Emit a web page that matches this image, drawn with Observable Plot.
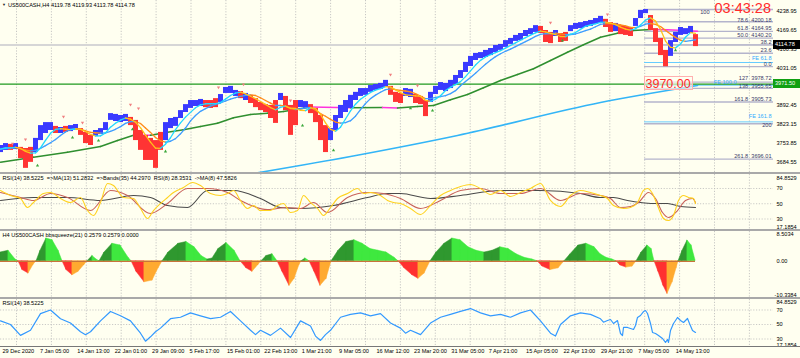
<!DOCTYPE html>
<html><head><meta charset="utf-8">
<script src="https://cdn.jsdelivr.net/npm/d3@7"></script>
<script src="https://cdn.jsdelivr.net/npm/@observablehq/plot@0.6"></script>
<style>
html,body{margin:0;padding:0;background:#fffff0;}
#chart{position:relative;width:800px;height:358px;overflow:hidden;background:#fffff0;font-family:"Liberation Sans",Arial,sans-serif;}
.ov{position:absolute;white-space:nowrap;}
</style></head>
<body><div id="chart"></div>
<script>
// ---------------- DATA ----------------
// price bars (H4, sampled), bar index 0..139
const priceHigh = [3746,3753,3750,3753,3739,3735,3739,3772,3819,3830,
3830,3816,3812,3816,3819,3823,3808,3794,3783,3801,
3808,3830,3863,3860,3856,3860,3849,3838,3801,3783,
3772,3764,3794,3830,3845,3849,3874,3896,3911,3911,
3915,3911,3911,3918,3933,3959,3963,3948,3944,3937,
3930,3918,3904,3896,3893,3911,3937,3926,3893,3911,
3911,3907,3896,3882,3856,3819,3808,3856,3893,3911,
3930,3941,3955,3955,3966,3970,3974,3985,3963,3941,
3937,3955,3952,3933,3926,3911,3941,3963,3977,3974,
3985,4003,4021,4051,4073,4084,4087,4095,4102,4113,
4117,4131,4139,4150,4157,4168,4175,4186,4183,4168,
4161,4168,4157,4161,4186,4194,4197,4201,4205,4212,
4220,4209,4197,4194,4186,4183,4179,4212,4242,4245,
4223,4175,4139,4095,4131,4161,4179,4175,4183,4153];
const priceLow = [3720,3728,3728,3731,3698,3662,3684,3720,3764,3790,
3801,3790,3790,3794,3797,3801,3783,3753,3746,3779,
3786,3801,3838,3834,3830,3834,3819,3764,3728,3691,
3691,3662,3728,3764,3808,3816,3845,3867,3882,3889,
3889,3885,3882,3885,3904,3937,3937,3926,3918,3911,
3900,3885,3874,3867,3845,3827,3911,3874,3783,3819,
3885,3882,3863,3830,3764,3720,3764,3801,3845,3867,
3882,3911,3926,3930,3941,3948,3952,3959,3930,3904,
3900,3926,3922,3900,3896,3852,3904,3933,3948,3944,
3955,3970,3992,4014,4036,4058,4065,4069,4076,4087,
4095,4106,4117,4128,4131,4146,4153,4161,4157,4124,
4120,4146,4124,4128,4164,4172,4175,4179,4183,4190,
4194,4179,4161,4164,4153,4150,4146,4183,4212,4230,
4168,4124,4076,4035,4073,4124,4150,4153,4157,4109];
// b = bullish (blue), r = bearish (red)
const barTrend = "bbrbrrrbbb"+"brbrbbrrrb"+"bbbbbbrrrr"+"rrrbbbbbbb"+"brrrbbbbrb"+
                 "rrrrrrbrrr"+"bbrrrrbbbb"+"bbbbbbbbrr"+"rbbrrrbbbb"+"bbbbbbbbbb"+
                 "bbbbbbbbrr"+"rbrrbbbbbb"+"brrbrrrbbb"+"rrrrbbbbbr";
// long moving average (index, price)
const longMA = [[0,3684.6],[6.6,3703.0],[13.4,3721.3],[20,3742.2],[23.4,3764.3],[26.6,3783.7],[30,3783.3],
[33.4,3794.7],[36.6,3803.5],[40,3815.7],[43.4,3827.8],[46.6,3847.6],[50,3859.7],[53.4,3864.5],[56.6,3870.7],
[60,3880.6],[62,3887.2],[70,3884.3],[76.4,3885.0],[79.4,3884.0],[83.4,3889.1],[86.6,3892.7],[90,3913.7],
[93.4,3933.1],[96.6,3957.7],[100,3984.5],[103.4,4006.6],[106.6,4027.5],[110,4057.9],[113.4,4088.4],
[116.6,4115.6],[120,4143.5],[123.4,4158.2],[126.6,4168.1],[130,4171.7],[133.4,4170.6],[136.6,4168.1],[139.4,4165.5]];
// very long moving average (index, price)
const veryLongMA = [[50,3641.3],[70,3705.5],[91.4,3782.6],[120,3903.8],[139.4,3966.2]];
// fractal arrows
const fractalUp = [[2.4,3742],[5,3757],[12.6,3841],[16.4,3819],[26,3885],[27.6,3871],[43.6,3948],[48.6,3959],[58,3900],[78,3995],[83.4,3955],[110,4186],[121.4,4216]];
const fractalDown = [[7.4,3683],[14.4,3786],[19.6,3775],[26.4,3816],[33,3735],[60.4,3830],[66.6,3739],[82,3893],[86.4,3885],[112.4,4142],[135,4106]];
const bidPrice = 4114.78, linePrice = 3971.50;
const priceTicks = [4238.95,4169.65,4100.35,4031.05,3892.45,3823.15,3753.85,3684.55];
// Fibonacci retracement / expansion
const fibStart = 128.8;
const fibPrice = [4245.07,4200.18,4164.95,4140.20,4115.45,4084.83,4035.33,3978.72,3955.65,3905.73,3825.60,3696.01];
const fibText  = ["100","78.6  4200.18","61.8  4164.95","50.0  4140.20","38.2","23.6","0.0","127  3978.72","138  3955.65","161.8  3905.73","200","261.8  3696.01"];
const fibLabelShift = [-64,-2,-2,-2,-2,-2,-2,-2,-2,-2,-2,-2];
const fibLabelLift  = [3,-2,-3,-3,-3,-3,-2.5,-3.5,-2,-3,1.5,-3];
const fePrice = [4050.6,3967.3,3832.6];
const feText  = ["FE 61.8","FE 100.0","FE 161.8"];
const feLabelShift = [-2,-37,-2];
const feLabelLift  = [-4.5,-3,-5.5];
const noteText = "3970.00", noteIndex = 128.7, notePrice = 3970;
// RSI panel lines (index, value)
const rsi8 = [[0,67.4],[2,60.8],[4,56.9],[5.4,45.1],[6.6,51.6],[8.6,63.4],[10,64.8],[12,56.9],[14,51.6],[16,58.2],
[17.4,41.1],[18.6,34.6],[20,51.6],[21.4,76.6],[22.6,73.9],[24.6,58.2],[26.6,56.9],[28,43.8],[29.4,30.7],[30.6,41.1],
[32,50.3],[33.4,58.2],[34.6,64.8],[36.6,71.3],[38.4,77.9],[40,73.9],[42,63.4],[44,60.8],[45.4,63.4],[46.6,67.4],
[48,54.3],[49.4,43.8],[50.6,47.7],[52,41.1],[54,41.1],[55.4,47.7],[56.6,50.3],[58,38.5],[59.4,41.1],[60.6,60.8],
[62,51.6],[63.4,43.8],[64.6,34.6],[66,45.1],[67.4,56.9],[69.4,63.4],[71.4,70.0],[72.6,63.4],[74,64.8],[76,60.8],
[77.4,54.3],[78.6,51.6],[80,50.3],[82,43.8],[84,35.9],[86,47.7],[88,60.8],[90,67.4],[92,72.6],[94,75.2],
[96,70.0],[98,62.1],[100,67.4],[102,59.5],[104,64.8],[106,70.0],[108,76.6],[110,54.3],[112,46.4],[114,60.8],
[116,67.4],[118,64.8],[120,60.8],[121.4,56.9],[122.6,47.7],[124.6,43.8],[126,45.1],[127.4,51.6],[128.6,67.4],[129.4,70.0],
[130.4,63.4],[131.4,47.7],[132.6,30.7],[133.6,28.0],[134.6,34.6],[135.6,54.3],[136.6,60.8],[137.6,58.2],[138.6,56.9],[139,50.3]];
const rsiMA8 = [[0,64.8],[4,58.2],[6.6,54.3],[10,63.4],[13.4,58.2],[18,41.1],[22,67.4],[25.4,60.8],[30,37.2],[33.4,50.3],
[37.4,70.0],[41.4,70.0],[45.4,64.8],[48,54.3],[53.4,42.5],[57.4,45.1],[60,43.8],[62.6,51.6],[65.4,38.5],[69.4,58.2],
[73.4,64.8],[76.6,63.4],[80,56.9],[84,43.8],[88,54.3],[92,67.4],[96,70.0],[100,63.4],[104,63.4],[108,70.0],
[112,54.3],[116,63.4],[120,60.8],[122,56.9],[124,45.1],[126,46.4],[127.6,51.6],[129.6,64.8],[131,56.9],[132.4,38.5],
[133.6,32.0],[135.4,41.1],[137,54.3],[138.4,56.9],[139,51.6]];
const rsiBands = [[0,54.3],[6.6,58.2],[13.4,58.2],[20,54.3],[26.6,60.8],[30,58.2],[33.4,47.7],[37.4,45.1],[41.4,67.4],[46.6,67.4],
[52,56.9],[56,45.1],[60,43.8],[66.6,47.7],[73.4,58.2],[77.4,63.4],[80,63.4],[86,56.9],[92,60.8],[100,67.4],
[108,67.4],[116,63.4],[120,58.2],[122.6,58.2],[125.4,54.3],[128,51.6],[130.6,50.3],[133.4,50.3],[136,46.4],[139,45.1]];
const rsiTicks = [84.8529,70,50,30,17.1854];
// bbsqueeze histogram (index, value)
const squeeze = [[0,2.5],[1.6,3.0],[3,0.5],[3.6,0],[4.4,-2.5],[5.6,-3.5],[6.6,-1],[7.2,0],[8,3],[9.2,6.5],
[10.4,6],[11.6,3],[12.4,0],[13.2,-2.5],[14.4,-4],[15.6,-3],[16.8,-1],[17.4,0],[18.4,1.5],[19.2,0.5],
[19.8,0],[20.8,2.5],[22.4,5],[24,4.5],[25.6,1],[26.2,0],[27.2,-3],[28.8,-6],[30.4,-5.5],[31.6,-2],
[32.4,0],[33.6,2.5],[35.6,5],[37.2,5.5],[38.8,4],[40.2,1.5],[41.4,0.5],[42.4,0.8],[43.6,3.5],[45.2,5.2],
[46.8,3],[48,0],[49.2,-2],[50.4,-3],[51.6,-1],[52.2,0],[53.2,1.5],[54.4,2],[55.4,0],[56.4,-3],
[57.8,-7],[58.8,-5],[59.8,-1],[60.2,0],[61,0.8],[61.8,0],[62.8,-3],[64,-7],[65.2,-5],[66.2,0],
[67.6,3],[69.2,5.5],[70.8,6],[72.4,5],[74,3.5],[75.6,3],[77.2,2.5],[78.8,1],[79.6,0],[80.8,-2],
[82.4,-4],[83.6,-5],[84.8,-3.5],[86,0],[87.2,2.5],[88.8,5],[90.4,6.5],[92,6],[93.6,4],[95.2,3],
[96.8,2.5],[98.4,3],[100,4],[101.6,3.5],[103.2,2],[104.8,1],[106.4,0.5],[107.4,0],[108.4,-1.5],[110,-2.5],
[111.6,-2],[112.8,0],[114,2],[115.6,4.5],[117.2,5],[118.8,4],[120,2],[121.2,1],[122.4,0.5],[123.2,0],
[124,-1.2],[125.2,-1.8],[126.4,-1.5],[127.2,0],[128.2,2.5],[129.4,4.5],[130.2,3.5],[130.8,0],[131.6,-3],[132.6,-7],
[133.4,-9.3],[134.4,-6],[135.2,-2],[135.6,0],[136.4,3],[137.4,5.9],[138.2,4.5],[139,0.26]];
const squeezeTop = 8.5034, squeezeBottom = -10.3384;
// RSI(14) bottom panel (index, value)
const rsi14 = [[0,55],[2,50],[4,35],[6,42],[8,65],[10,70],[12,58],[14,52],[16,40],[17,36],
[18,40],[20,55],[22,68],[24,62],[26,55],[28,38],[29,27],[30,33],[31,40],[32,45],[34,58],[36,60],[38,66],
[40,62],[42,58],[44,60],[46,68],[48,55],[50,42],[51,36],[52,42],[54,35],[56,45],[58,32],
[60,55],[62,48],[63,34],[64,28],[65,36],[66,42],[68,60],[70,64],[72,66],[74,62],[76,65],[78,52],
[80,45],[81,38],[82,42],[84,36],[86,52],[88,60],[90,64],[92,68],[94,72],[96,66],[98,62],
[100,64],[102,60],[104,66],[106,70],[108,55],[110,38],[111,34],[112,50],[114,62],[116,66],[118,64],
[120,57.9],[120.6,53.2],[121.4,55.5],[122,56.9],[122.6,51.4],[123.4,55.5],[124,37.6],[124.4,34.8],[124.6,45.9],[125.4,45.9],
[126,44.5],[126.6,43.1],[127,48.6],[127.4,59.7],[128,62.4],[128.6,67.9],[129,69.3],[129.4,65.2],[130,51.4],[130.4,39.0],
[131,37.6],[131.6,34.8],[132.4,30.7],[133,25.2],[133.4,29.3],[133.6,25.2],[134,41.7],[134.6,51.4],[135.4,59.7],[136,55.5],
[136.6,52.8],[137.4,58.3],[137.8,51.4],[138.4,41.7],[139,39.0]];
const rsi14Ticks = [84.8529,70,50,30,17.1854];
// time axis
const timeLabels = ["29 Dec 2020","7 Jan 05:00","14 Jan 13:00","22 Jan 01:00","29 Jan 09:00","5 Feb 17:00",
"15 Feb 01:00","22 Feb 13:00","1 Mar 21:00","9 Mar 05:00","16 Mar 12:00","23 Mar 20:00","31 Mar 05:00",
"7 Apr 21:00","15 Apr 05:00","22 Apr 13:00","29 Apr 21:00","7 May 05:00","14 May 13:00"];
const headerText = "US500CASH,H4  4119.78 4119.93 4113.78 4114.78";
const rsiTitle = "RSI(14) 38.5225  =>MA(13) 51.2832  =>Bands(35) 44.2970  RSI(8) 28.3531  ->MA(8) 47.5826";
const squeezeTitle = "H4 US500CASH bbsqueeze(21) 0.2579 0.2579 0.0000";
const rsi14Title = "RSI(14) 38.5225";
const timer = "03:43:28";

// ---------------- BUILD ----------------
const FONT = "Liberation Sans, Arial, sans-serif";
const FS = 5.6;
const xDomain = [0, 154.6];
const chart = document.getElementById("chart");
const bars = priceHigh.map((h, i) => ({i, hi: h, lo: priceLow[i], up: barTrend[i] === "b"}));
const mid = bars.map(d => (d.hi + d.lo) / 2);
function sma(a, k) { return a.map((_, i) => d3.mean(a.slice(Math.max(0, i - k + 1), i + 1))); }
function slopeSegs(pts, upC, dnC) {
  const out = [];
  for (let k = 1; k < pts.length; k++) {
    const c = pts[k][1] >= pts[k - 1][1] ? upC : dnC;
    out.push({s: k, x: pts[k - 1][0], v: pts[k - 1][1], c}, {s: k, x: pts[k][0], v: pts[k][1], c});
  }
  return out;
}
const fastMA = sma(mid, 4).map((v, i) => [i, v]);
const slowMA = sma(mid, 7).map((v, i) => [i, v]);
const gridIdx = d3.range(23).map(k => (16 + 34.9 * k) / 5).filter(v => v < xDomain[1]);
const timeIdx = timeLabels.map((_, k) => (2 + 37.4 * k) / 5);

function grid() { return Plot.ruleX(gridIdx, {stroke: "#b9b9b9", strokeWidth: 0.8, strokeDasharray: "1.2,1.6"}); }
function base(height, yDomain, marks, mb = 0) {
  return Plot.plot({
    width: 800, height: height + mb, marginLeft: 0, marginRight: 27, marginTop: 0, marginBottom: mb,
    x: {domain: xDomain, axis: null}, y: {domain: yDomain, axis: null},
    color: {type: "identity"},
    style: {background: "transparent", fontFamily: FONT, fontSize: FS + "px", color: "#000", overflow: "visible"},
    marks
  });
}
function place(el, top) { el.style.position = "absolute"; el.style.left = "0px"; el.style.top = top + "px"; chart.appendChild(el); }
function yLabels(ticks, fmt) {
  return Plot.text(ticks, {y: d => d, text: fmt, frameAnchor: "right", dx: 3, textAnchor: "start", fill: "#000", fontSize: FS});
}
// one label per level (dx/dy are constants in Plot, so one mark each)
function levelLabels(prices, texts, shifts, lifts, color) {
  return prices.map((p, i) => Plot.text([p], {y: d => d, text: () => texts[i], frameAnchor: "right",
    dx: shifts[i], dy: lifts[i], textAnchor: "end", fill: color, fontSize: FS}));
}

// main price panel: page y 0..172
const mainDomain = [3646.8, 4278.2];
const mainPlot = base(172, mainDomain, [
  grid(),
  Plot.ruleY([bidPrice], {stroke: "#d6d6d6", strokeWidth: 2}),
  Plot.ruleY(fibPrice, {y: d => d, x1: fibStart, x2: xDomain[1], stroke: "#b4b4cc", strokeWidth: 1.4}),
  Plot.ruleY(fePrice, {y: d => d, x1: fibStart, x2: xDomain[1], stroke: "#66ccff", strokeWidth: 1}),
  Plot.ruleY([linePrice], {stroke: "#1f9a1f", strokeWidth: 1.3}),
  Plot.line(veryLongMA, {x: d => d[0], y: d => d[1], stroke: "#33b5f7", strokeWidth: 1.6, curve: "monotone-x", clip: true}),
  Plot.line(slopeSegs(longMA, "#2f8f2f", "#ff33dd"), {x: "x", y: "v", z: "s", stroke: "c", strokeWidth: 1.5, strokeLinecap: "round"}),
  Plot.ruleX(bars, {x: "i", y1: "lo", y2: "hi", stroke: d => d.up ? "#3a3aff" : "#ff3434", strokeWidth: 5, clip: true}),
  Plot.line(slopeSegs(slowMA, "#3d9dff", "#ff8c1a"), {x: "x", y: "v", z: "s", stroke: "c", strokeWidth: 1.3, strokeLinecap: "round"}),
  Plot.line(slopeSegs(fastMA, "#22d8ff", "#ffc21a"), {x: "x", y: "v", z: "s", stroke: "c", strokeWidth: 1.3, strokeLinecap: "round"}),
  Plot.dot(fractalUp, {x: d => d[0], y: d => d[1], symbol: "triangle", r: 1.2, rotate: 180, fill: "#f08080", dy: -3}),
  Plot.dot(fractalDown, {x: d => d[0], y: d => d[1], symbol: "triangle", r: 1.2, fill: "#3aa83a", dy: 3}),
  ...levelLabels(fibPrice, fibText, fibLabelShift, fibLabelLift, "#3a3a6a"),
  ...levelLabels(fePrice, feText, feLabelShift, feLabelLift, "#33aaff"),
  yLabels(priceTicks, d => d.toFixed(2))
]);
place(mainPlot, 0);
const xs = mainPlot.scale("x"), ys = mainPlot.scale("y");

// RSI panel: page y 174..229
const rsiPlot = base(55, [16.23, 88.36], [
  grid(),
  Plot.ruleY([70, 50, 30], {stroke: "#bdbdbd", strokeWidth: 0.8, strokeDasharray: "1.2,1.6"}),
  Plot.line(rsiBands, {x: d => d[0], y: d => d[1], stroke: "#4a4a4a", strokeWidth: 1.1, curve: "monotone-x"}),
  Plot.line(rsiMA8, {x: d => d[0], y: d => d[1], stroke: "#c8625a", strokeWidth: 1.1, curve: "monotone-x"}),
  Plot.line(rsi8, {x: d => d[0], y: d => d[1], stroke: "#ffd21f", strokeWidth: 1.1, curve: "monotone-x"}),
  Plot.text([rsiTitle], {frameAnchor: "top-left", dx: 2, dy: 2, lineAnchor: "top", fill: "#000", fontSize: FS}),
  yLabels(rsiTicks.slice(1, 4), d => String(d)),
  Plot.text([rsiTicks[0]], {frameAnchor: "top-right", dx: 3, dy: 2, lineAnchor: "top", textAnchor: "start", text: d => d.toFixed(4), fontSize: FS}),
  Plot.text([rsiTicks[4]], {frameAnchor: "bottom-right", dx: 3, dy: -1, lineAnchor: "bottom", textAnchor: "start", text: d => d.toFixed(4), fontSize: FS})
]);
place(rsiPlot, 174);

// bbsqueeze panel: page y 231..297
function histSegs(pts) {
  const out = [];
  for (let k = 1; k < pts.length; k++) {
    const [x0, v0] = pts[k - 1], [x1, v1] = pts[k];
    const pos = (v0 + v1) / 2 >= 0, grow = Math.abs(v1) >= Math.abs(v0);
    const c = pos ? (grow ? "#2f982f" : "#3fe83f") : (grow ? "#ff3030" : "#ffaa30");
    out.push({s: k, x: x0, v: v0, c}, {s: k, x: x1, v: v1, c});
  }
  return out;
}
const sqPlot = base(66, [squeezeBottom, squeezeTop], [
  grid(),
  Plot.areaY(histSegs(squeeze), {x: "x", y1: 0, y2: "v", z: "s", fill: "c", stroke: "c", strokeWidth: 0.5}),
  Plot.ruleY([0], {x1: 0, x2: 139, stroke: "#c8743a", strokeWidth: 1.3}),
  Plot.text([squeezeTitle], {frameAnchor: "top-left", dx: 2, dy: 2, lineAnchor: "top", fill: "#000", fontSize: FS}),
  Plot.text([squeezeTop], {frameAnchor: "top-right", dx: 3, dy: 1, lineAnchor: "top", textAnchor: "start", text: d => d.toFixed(4), fontSize: FS}),
  yLabels([0], () => "0.00"),
  Plot.text([squeezeBottom], {frameAnchor: "bottom-right", dx: 1, dy: -1, lineAnchor: "bottom", textAnchor: "start", text: d => d.toFixed(4), fontSize: FS})
]);
place(sqPlot, 231);

// RSI(14) panel + time axis: page y 299..346 (+12 for labels)
const r14Plot = base(47, [19.66, 84.48], [
  grid(),
  Plot.ruleY([70, 50, 30], {stroke: "#bdbdbd", strokeWidth: 0.8, strokeDasharray: "1.2,1.6"}),
  Plot.line(rsi14, {x: d => d[0], y: d => d[1], stroke: "#3399ff", strokeWidth: 1.2}),
  Plot.text([rsi14Title], {frameAnchor: "top-left", dx: 2, dy: 2, lineAnchor: "top", fill: "#000", fontSize: FS}),
  yLabels(rsi14Ticks.slice(1, 4), d => String(d)),
  Plot.text([rsi14Ticks[0]], {frameAnchor: "top-right", dx: 3, dy: 1, lineAnchor: "top", textAnchor: "start", text: d => d.toFixed(4), fontSize: FS}),
  Plot.text([rsi14Ticks[4]], {frameAnchor: "bottom-right", dx: 3, dy: 0, lineAnchor: "bottom", textAnchor: "start", text: d => d.toFixed(4), fontSize: FS}),
  Plot.text(timeIdx, {x: d => d, text: (d, i) => timeLabels[i], frameAnchor: "bottom", dy: 6.5, textAnchor: "start", fill: "#000", fontSize: FS})
], 12);
place(r14Plot, 299);

// separators and frame lines
function hline(top, h, color) { const d = document.createElement("div"); d.className = "ov"; Object.assign(d.style, {left: "0px", top: top + "px", width: "800px", height: h + "px", background: color}); chart.appendChild(d); }
hline(172, 2, "#a9a9a9"); hline(229, 2, "#a9a9a9"); hline(297, 2, "#a9a9a9"); hline(346, 1, "#777");

function ov(text, css) { const d = document.createElement("div"); d.className = "ov"; d.textContent = text; Object.assign(d.style, css); chart.appendChild(d); return d; }
// header
ov("▼", {left: "2px", top: "2px", fontSize: "4px", lineHeight: "6px", color: "#222"});
ov(headerText, {left: "8px", top: "2px", fontSize: FS + "px", lineHeight: "7px", color: "#000"});
// timer
ov(timer, {right: "29px", top: "2px", height: "13px", fontSize: "14.5px", lineHeight: "13px", color: "#ff2b2b"});
// price boxes on the axis
const by = ys.apply(bidPrice);
ov(bidPrice.toFixed(2), {left: "773px", top: (by - 4.5) + "px", width: "27px", height: "9px", background: "#000", color: "#fff", fontSize: FS + "px", lineHeight: "9px", paddingLeft: "2px", boxSizing: "border-box"});
const gy = ys.apply(linePrice);
ov(linePrice.toFixed(2), {left: "773px", top: (gy - 4.5) + "px", width: "27px", height: "9px", background: "#11a011", color: "#fff", fontSize: FS + "px", lineHeight: "9px", paddingLeft: "2px", boxSizing: "border-box"});
// text annotation
const nx = xs.apply(noteIndex), ny = ys.apply(notePrice);
ov(noteText, {left: nx + "px", top: (ny - 7.5) + "px", height: "14px", fontSize: "12.5px", lineHeight: "14px", color: "#ff2b2b", border: "1px solid #ffb0b0", padding: "0 1px", boxSizing: "border-box", background: "rgba(255,255,240,0.6)"});
</script>
</body></html>
